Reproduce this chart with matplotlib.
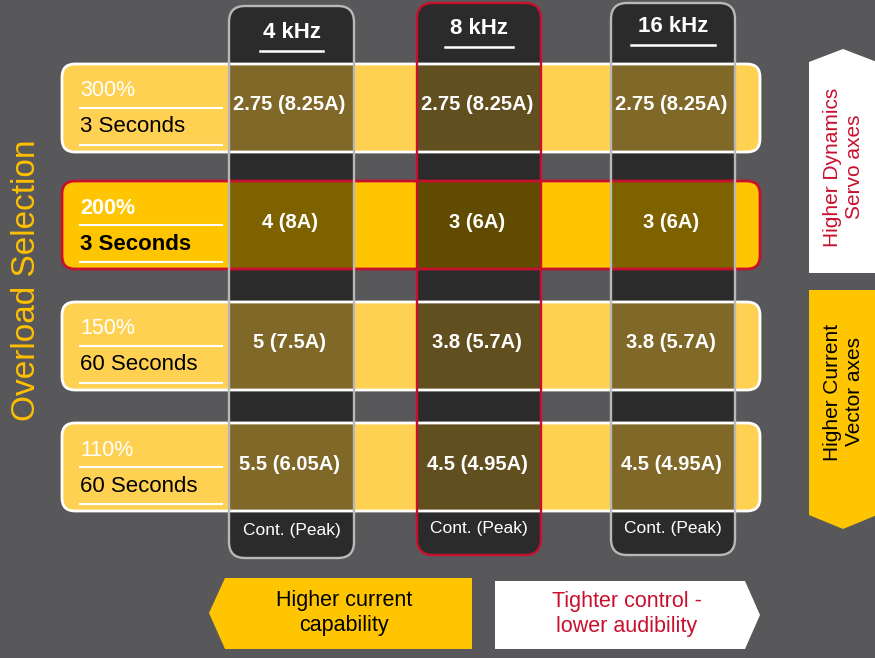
import matplotlib
matplotlib.use("Agg")
import matplotlib.pyplot as plt
from matplotlib.patches import FancyBboxPatch, Rectangle, Polygon

# ---- data ----
frequencies = ["4 kHz", "8 kHz", "16 kHz"]
overload_pct = ["300%", "200%", "150%", "110%"]
overload_time = ["3 Seconds", "3 Seconds", "60 Seconds", "60 Seconds"]
cont_4k = [2.75, 4, 5, 5.5]
peak_4k = [8.25, 8, 7.5, 6.05]
cont_8k = [2.75, 3, 3.8, 4.5]
peak_8k = [8.25, 6, 5.7, 4.95]
cont_16k = [2.75, 3, 3.8, 4.5]
peak_16k = [8.25, 6, 5.7, 4.95]
column_footer = "Cont. (Peak)"
side_title = "Overload Selection"
right_top = "Higher Dynamics\nServo axes"
right_bottom = "Higher Current\nVector axes"
bottom_left = "Higher current\ncapability"
bottom_right = "Tighter control -\nlower audibility"
selected_row = 1
selected_col = 1

conts = [cont_4k, cont_8k, cont_16k]
peaks = [peak_4k, peak_8k, peak_16k]

# ---- style ----
BG = "#58585A"
DARK = "#2B2B2B"
LIGHTY = "#FFD152"
GOLD = "#FFC600"
CRIMSON = "#C8102E"
GREYB = "#B8B8B8"
FONT = ["Liberation Sans Narrow", "Liberation Sans", "DejaVu Sans"]
plt.rcParams["font.family"] = FONT

fig = plt.figure(figsize=(8.75, 6.58), dpi=100)
fig.patch.set_facecolor(BG)
ax = fig.add_axes([0, 0, 1, 1])
ax.set_xlim(0, 875)
ax.set_ylim(658, 0)
ax.axis("off")
ax.set_facecolor(BG)

# geometry (pixels)
row_x0, row_x1 = 62, 760
row_tops = [64, 181, 302, 423]
row_h = 88
col_x = [(229, 354), (417, 541), (611, 735)]
col_y = [(6, 558), (3, 555), (3, 555)]
col_alpha = [0.5, 0.62, 0.5]

# column bodies
for j, ((x0, x1), (y0, y1)) in enumerate(zip(col_x, col_y)):
    ax.add_patch(FancyBboxPatch((x0, y0), x1 - x0, y1 - y0,
                                boxstyle="round,pad=0,rounding_size=16",
                                fc=DARK, ec="none", zorder=1))

# rows
for i, top in enumerate(row_tops):
    sel = i == selected_row
    ax.add_patch(FancyBboxPatch((row_x0, top), row_x1 - row_x0, row_h,
                                boxstyle="round,pad=0,rounding_size=13",
                                fc=GOLD if sel else LIGHTY, ec="none", zorder=2))
    ax.add_patch(FancyBboxPatch((row_x0, top), row_x1 - row_x0, row_h,
                                boxstyle="round,pad=0,rounding_size=13",
                                fc="none", ec=CRIMSON if sel else "white",
                                lw=2.0, zorder=3.5))
    # labels
    ax.text(80, top + 27, overload_pct[i], color="white", fontsize=15.5,
            fontweight="bold" if sel else "normal", va="center", ha="left", zorder=5)
    ax.text(80, top + 63, overload_time[i], color="black", fontsize=16,
            fontweight="bold" if sel else "normal", va="center", ha="left", zorder=5)
    ax.plot([80, 222], [top + 44, top + 44], color="white", lw=1.5, zorder=5)
    ax.plot([80, 222], [top + 81, top + 81], color="white", lw=1.5, zorder=5)

# overlays where columns cross rows
for j, (x0, x1) in enumerate(col_x):
    for top in row_tops:
        ax.add_patch(Rectangle((x0, top), x1 - x0, row_h,
                               fc="black", ec="none", alpha=col_alpha[j], zorder=3))

# column borders, headers, footers
header_y = [33, 29, 27]
for j, ((x0, x1), (y0, y1)) in enumerate(zip(col_x, col_y)):
    ec = CRIMSON if j == selected_col else GREYB
    ax.add_patch(FancyBboxPatch((x0, y0), x1 - x0, y1 - y0,
                                boxstyle="round,pad=0,rounding_size=16",
                                fc="none", ec=ec, lw=1.7, zorder=4))
    cx = (x0 + x1) / 2
    ax.text(cx, header_y[j], frequencies[j], color="white", fontsize=16,
            fontweight="bold", ha="center", va="center", zorder=5)
    w = [63, 68, 84][j]
    ax.plot([cx - w / 2, cx + w / 2], [header_y[j] + 18, header_y[j] + 18],
            color="white", lw=1.8, zorder=5)
    ax.text(cx, y1 - 27, column_footer, color="white", fontsize=12.5,
            ha="center", va="center", zorder=5)
    for i, top in enumerate(row_tops):
        ax.text(cx - 2, top + 41, f"{conts[j][i]:g} ({peaks[j][i]:g}A)", color="white",
                fontsize=14.5, fontweight="bold", ha="center", va="center", zorder=5)

# left title
ax.text(27, 280, side_title, color="#FFC000", fontsize=24, rotation=90,
        ha="center", va="center", zorder=5)

# right arrows
ax.add_patch(Polygon([(809, 273), (809, 62), (843, 49), (877, 62), (877, 273)],
                     closed=True, fc="white", ec="none", zorder=2))
ax.text(843, 167, right_top, color=CRIMSON, fontsize=15, rotation=90,
        ha="center", va="center", multialignment="center", zorder=5)
ax.add_patch(Polygon([(809, 290), (809, 515), (843, 529), (877, 515), (877, 290)],
                     closed=True, fc=GOLD, ec="none", zorder=2))
ax.text(843, 392, right_bottom, color="black", fontsize=15, rotation=90,
        ha="center", va="center", multialignment="center", zorder=5)

# bottom arrows
ax.add_patch(Polygon([(472, 578), (225, 578), (209, 613), (225, 649), (472, 649)],
                     closed=True, fc=GOLD, ec="none", zorder=2))
ax.text(344, 613, bottom_left, color="black", fontsize=15.5,
        ha="center", va="center", multialignment="center", zorder=5)
ax.add_patch(Polygon([(495, 581), (745, 581), (760, 615), (745, 649), (495, 649)],
                     closed=True, fc="white", ec="none", zorder=2))
ax.text(627, 614, bottom_right, color=CRIMSON, fontsize=15.5,
        ha="center", va="center", multialignment="center", zorder=5)

fig.savefig("out.png", dpi=100, facecolor=BG)
